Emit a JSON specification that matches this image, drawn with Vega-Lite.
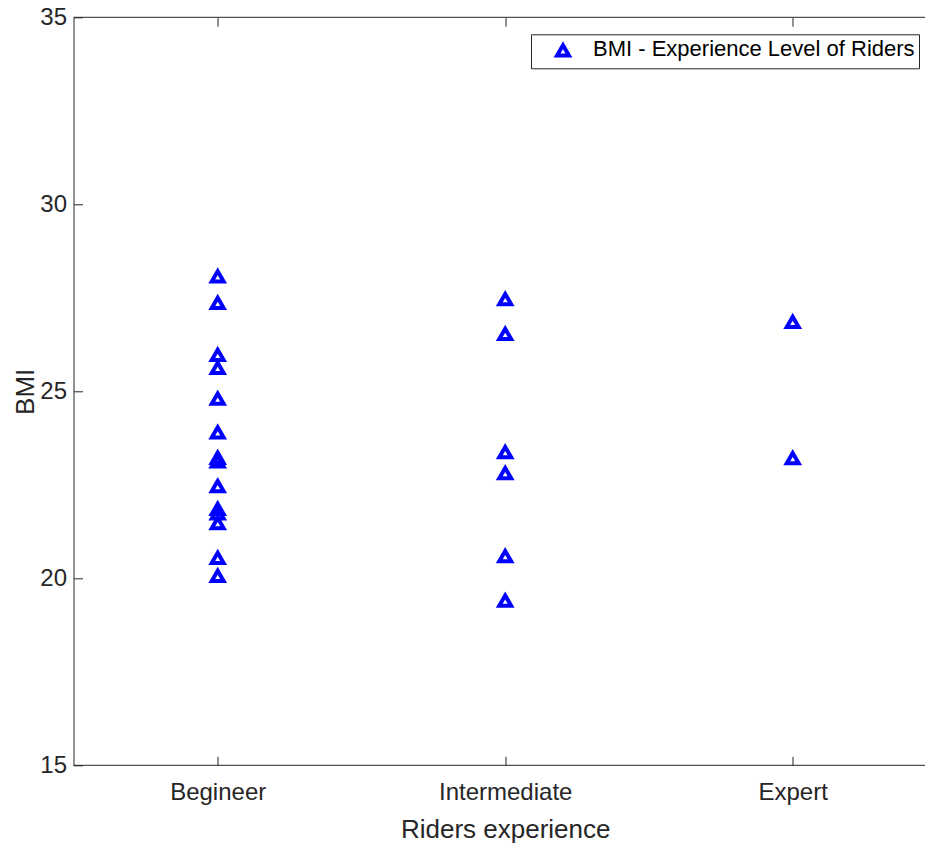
{
  "$schema": "https://vega.github.io/schema/vega-lite/v6.json",
  "width": 851.5,
  "height": 748,
  "autosize": {"type": "none"},
  "padding": {"left": 73.5, "top": 17.3, "right": 0, "bottom": 79.7},
  "background": "white",
  "config": {
    "font": "Liberation Sans",
    "view": {"stroke": null},
    "axis": {
      "grid": false,
      "domainColor": "#262626",
      "tickColor": "#262626",
      "labelColor": "#262626",
      "titleColor": "#262626",
      "labelFont": "Liberation Sans",
      "titleFont": "Liberation Sans",
      "labelFontSize": 24,
      "titleFontSize": 26,
      "titleFontWeight": "normal",
      "tickSize": -9,
      "tickWidth": 1,
      "domainWidth": 1
    }
  },
  "datasets": {
    "riders": [
      {"experience": "Begineer", "bmi": 28.10},
      {"experience": "Begineer", "bmi": 27.39},
      {"experience": "Begineer", "bmi": 26.00},
      {"experience": "Begineer", "bmi": 25.65},
      {"experience": "Begineer", "bmi": 24.83},
      {"experience": "Begineer", "bmi": 23.93},
      {"experience": "Begineer", "bmi": 23.25},
      {"experience": "Begineer", "bmi": 23.15},
      {"experience": "Begineer", "bmi": 22.49},
      {"experience": "Begineer", "bmi": 21.88},
      {"experience": "Begineer", "bmi": 21.76},
      {"experience": "Begineer", "bmi": 21.50},
      {"experience": "Begineer", "bmi": 20.57},
      {"experience": "Begineer", "bmi": 20.09},
      {"experience": "Intermediate", "bmi": 27.49},
      {"experience": "Intermediate", "bmi": 26.56},
      {"experience": "Intermediate", "bmi": 23.40},
      {"experience": "Intermediate", "bmi": 22.84},
      {"experience": "Intermediate", "bmi": 20.62},
      {"experience": "Intermediate", "bmi": 19.43},
      {"experience": "Expert", "bmi": 26.88},
      {"experience": "Expert", "bmi": 23.24}
    ],
    "frame": [
      {"edge": 35},
      {"edge": 15}
    ]
  },
  "resolve": {"axis": {"x": "independent"}},
  "layer": [
    {
      "data": {"name": "frame"},
      "mark": {"type": "rule", "color": "#262626", "strokeWidth": 1},
      "encoding": {"y": {"field": "edge", "type": "quantitative"}}
    },
    {
      "data": {"name": "riders"},
      "mark": {
        "type": "point",
        "filled": false,
        "shape": "M0,-0.7L1,1.032L-1,1.032Z",
        "size": 141,
        "strokeWidth": 4,
        "strokeJoin": "miter",
        "opacity": 1
      },
      "encoding": {
        "x": {
          "field": "experience",
          "type": "nominal",
          "sort": ["Begineer", "Intermediate", "Expert"],
          "scale": {"type": "point", "padding": 0, "range": [144.2, 719.2]},
          "axis": {
            "orient": "bottom",
            "title": "Riders experience",
            "labelAngle": 0,
            "domain": false,
            "labelPadding": 24,
            "titlePadding": 12
          }
        },
        "y": {
          "field": "bmi",
          "type": "quantitative",
          "scale": {"domain": [15, 35], "nice": false, "zero": false},
          "axis": {
            "title": "BMI",
            "values": [15, 20, 25, 30, 35],
            "labelPadding": 16,
            "titlePadding": 1
          }
        },
        "color": {
          "datum": "BMI - Experience Level of Riders",
          "type": "nominal",
          "scale": {"range": ["#0000ff"]},
          "legend": {
            "title": null,
            "orient": "none",
            "legendX": 457.5,
            "legendY": 17,
            "padding": 4,
            "labelFontSize": 22,
            "labelLimit": 600,
            "labelColor": "#000000",
            "labelFont": "Liberation Sans",
            "strokeColor": "#262626",
            "fillColor": "white",
            "symbolType": "M0,-0.7L1,1.032L-1,1.032Z",
            "symbolSize": 141,
            "symbolStrokeWidth": 4,
            "symbolFillColor": "transparent",
            "symbolStrokeColor": "#0000ff",
            "symbolOffset": 17,
            "labelOffset": 19
          }
        }
      }
    },
    {
      "data": {"name": "riders"},
      "mark": {"type": "point", "opacity": 0},
      "encoding": {
        "x": {
          "field": "experience",
          "type": "nominal",
          "sort": ["Begineer", "Intermediate", "Expert"],
          "axis": {
            "orient": "top",
            "title": null,
            "labels": false,
            "domain": false
          }
        },
        "y": {"field": "bmi", "type": "quantitative"}
      }
    }
  ]
}
